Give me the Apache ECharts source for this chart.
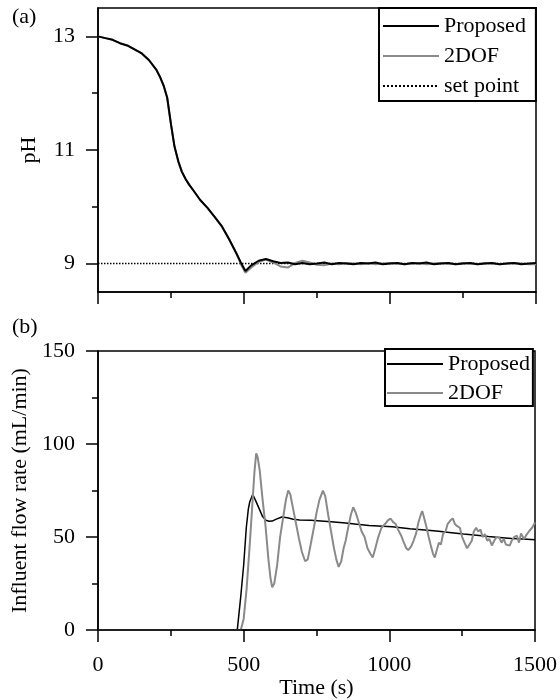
<!DOCTYPE html>
<html>
<head>
<meta charset="utf-8">
<script src="https://cdn.jsdelivr.net/npm/echarts@6/dist/echarts.min.js"></script>
<style>
  body { margin: 0; background: #fff; }
  #main { width: 560px; height: 700px; }
</style>
</head>
<body>
<div id="main"></div>
<script>
// (a) pH response
var phTime = [0, 25, 50, 75, 100, 125, 150, 175, 200, 212, 225, 237, 250, 262, 275, 287, 300, 312, 325, 350, 375, 400, 425, 450, 475,
    490, 505, 525, 550, 575, 600, 625, 650, 675, 700,
    725, 750, 775, 800, 825, 850, 875, 900, 925, 950, 975, 1000, 1025, 1050, 1075, 1100,
    1125, 1150, 1175, 1200, 1225, 1250, 1275, 1300, 1325, 1350, 1375, 1400, 1425, 1450, 1475, 1500];
var phProposed = [13.00, 12.97, 12.94, 12.88, 12.84, 12.77, 12.70, 12.58, 12.41, 12.29, 12.13, 11.92, 11.45, 11.06, 10.80, 10.62, 10.49, 10.39, 10.30, 10.12, 9.98, 9.82, 9.65, 9.42, 9.17,
    9.01, 8.87, 8.97, 9.05, 9.08, 9.04, 9.01, 9.02, 8.99, 9.01,
    8.99, 9.00, 9.02, 8.99, 9.01, 9.00, 8.99, 9.01, 9.00, 9.02, 8.99, 9.00, 9.01, 8.99, 9.01, 9.00,
    9.02, 8.99, 9.00, 9.01, 8.99, 9.00, 9.01, 8.99, 9.00, 9.01, 8.99, 9.00, 9.01, 8.99, 9.00, 9.01];
var phTwoDof = [13.00, 12.97, 12.94, 12.88, 12.84, 12.77, 12.70, 12.58, 12.41, 12.29, 12.13, 11.92, 11.45, 11.06, 10.80, 10.62, 10.49, 10.39, 10.30, 10.12, 9.98, 9.82, 9.65, 9.42, 9.17,
    8.98, 8.84, 8.93, 9.03, 9.07, 9.02, 8.95, 8.93, 9.01, 9.05,
    9.02, 8.98, 8.97, 9.00, 8.99, 9.01, 9.00, 8.99, 9.01, 8.99, 9.00, 9.01, 9.00, 8.99, 9.00, 9.01,
    8.99, 9.00, 9.01, 9.00, 8.99, 9.01, 9.00, 8.99, 9.01, 9.00, 8.99, 9.00, 9.01, 9.00, 8.99, 8.99];
var setTime = [0, 1500];
var setValue = [9, 9];

// (b) influent flow rate
var flowTimeProposed = [0, 478, 490, 500, 509, 516, 521, 531, 540, 552, 565, 576, 587, 598, 610, 631, 650, 670, 692,
    730, 765, 800, 850, 888, 930, 962, 1010, 1070, 1132, 1170, 1206, 1254, 1300, 1340, 1377, 1420, 1460, 1500];
var flowProposed = [0, 0, 18, 35, 55, 65, 69, 72.8, 70, 65.7, 61, 59, 58.5, 58.6, 59.5, 60.8, 60.4, 59.6, 59.2,
    59, 58.7, 58.2, 57.5, 56.9, 56.2, 56, 55.5, 54.5, 53.7, 53.1, 52.5, 51.6, 51, 50.3, 49.8, 49.2, 48.9, 48.6];
var flowTimeTwoDof = [0, 490, 500, 510, 520, 530, 537, 543, 548, 555, 565, 575, 585, 592, 598, 605, 615, 625, 637, 645,
    653, 660, 670, 680, 690, 700, 711, 720, 730, 741, 750, 760, 772, 780, 790, 800, 810, 818, 826, 835,
    843, 850, 860, 868, 876, 885, 895, 905, 915, 925, 935, 943, 952, 962, 973, 985, 995, 1004, 1013, 1022,
    1030, 1040, 1050, 1058, 1065, 1075, 1083, 1092, 1100, 1108, 1113, 1120, 1128, 1135, 1143, 1150, 1156, 1163, 1170, 1177,
    1185, 1193, 1200, 1210, 1218, 1225, 1232, 1242, 1250, 1258, 1267, 1275, 1283, 1290, 1298, 1305, 1313, 1320, 1328, 1336,
    1343, 1352, 1360, 1368, 1377, 1385, 1393, 1400, 1413, 1420, 1428, 1438, 1445, 1452, 1462, 1470, 1481, 1490, 1500];
var flowTwoDof = [0, 0, 6, 22, 44, 68, 85, 95, 93, 86, 70, 56, 38, 28, 23, 25, 35, 50, 62, 70,
    75, 73, 65, 57, 49, 42, 37, 38, 46, 55, 63, 70, 75, 72, 62, 53, 44, 38, 34, 37,
    44, 48, 56, 62, 66, 63, 58, 53, 50, 44, 41, 39, 44, 50, 55, 57, 59, 60, 58, 57,
    54, 51, 47, 44, 43, 45, 48, 52, 58, 62, 64, 60, 55, 50, 45, 41, 39, 43, 47, 46,
    52, 53, 57, 59, 60, 57, 56, 55, 50, 47, 44, 46, 48, 53, 55, 53, 54, 50, 51.6, 48,
    49, 45.5, 48, 50, 49.8, 47, 49, 46, 45.4, 48, 50, 50.7, 47, 52, 49, 51, 53.4, 55, 57.8];

function pairs(xs, ys) {
    var out = [];
    for (var i = 0; i < xs.length; i++) {
        out.push([xs[i], ys[i]]);
    }
    return out;
}

var serif = 'Liberation Serif';
var axisColor = '#000';
var labelStyle = { color: '#000', fontFamily: serif, fontSize: 22 };
var nameStyle = { color: '#000', fontFamily: serif, fontSize: 22 };
var plain = function (v) { return String(v); };

var myChart = echarts.init(document.getElementById('main'));

var legendBase = {
    orient: 'vertical',
    itemWidth: 56,
    itemHeight: 14,
    borderColor: '#000',
    borderWidth: 2,
    borderRadius: 0,
    backgroundColor: '#fff',
    selectedMode: false,
    itemStyle: { opacity: 0 },
    textStyle: { color: '#000', fontFamily: serif, fontSize: 22, lineHeight: 24 }
};

var option = {
    animation: false,
    backgroundColor: '#fff',
    title: [
        { text: '(a)', left: 12, top: 6, padding: 0, textStyle: { fontFamily: serif, fontSize: 22, fontWeight: 'normal', color: '#000' } },
        { text: '(b)', left: 12, top: 316, padding: 0, textStyle: { fontFamily: serif, fontSize: 22, fontWeight: 'normal', color: '#000' } }
    ],
    grid: [
        { left: 98, right: 24, top: 8, height: 284, show: true, borderColor: '#000', borderWidth: 1.5, backgroundColor: 'transparent' },
        { left: 98, right: 24, top: 351, height: 283, show: true, borderColor: '#000', borderWidth: 1.5, backgroundColor: 'transparent' }
    ],
    legend: [
        Object.assign({}, legendBase, {
            data: ['Proposed', '2DOF', 'set point'],
            left: 379,
            top: 8,
            padding: [6, 10, 3, 3],
            itemGap: 6
        }),
        Object.assign({}, legendBase, {
            data: ['Proposed', '2DOF'],
            left: 385,
            top: 349,
            padding: [3, 3, 1, 1],
            itemGap: 5
        })
    ],
    xAxis: [
        {
            gridIndex: 0, type: 'value', min: 0, max: 1500, interval: 500, z: 5,
            axisLine: { show: true, lineStyle: { color: axisColor, width: 1.5 } },
            axisTick: { show: true, length: 12, lineStyle: { color: axisColor, width: 1.5 } },
            minorTick: { show: true, splitNumber: 2, length: 6, lineStyle: { color: axisColor, width: 1.5 } },
            axisLabel: { show: false },
            splitLine: { show: false }
        },
        {
            gridIndex: 1, type: 'value', min: 0, max: 1500, interval: 500, z: 5,
            name: 'Time (s)', nameLocation: 'middle', nameGap: 44, nameTextStyle: nameStyle,
            axisLine: { show: true, lineStyle: { color: axisColor, width: 1.5 } },
            axisTick: { show: true, length: 12, lineStyle: { color: axisColor, width: 1.5 } },
            minorTick: { show: true, splitNumber: 2, length: 6, lineStyle: { color: axisColor, width: 1.5 } },
            axisLabel: Object.assign({ margin: 24, formatter: plain }, labelStyle),
            splitLine: { show: false }
        }
    ],
    yAxis: [
        {
            gridIndex: 0, type: 'value', min: 8.5, max: 13.5,
            name: 'pH', nameLocation: 'middle', nameGap: 58, nameTextStyle: nameStyle,
            axisLine: { show: true, lineStyle: { color: axisColor, width: 1.5 } },
            axisTick: { show: true, length: 12, customValues: [9, 11, 13], lineStyle: { color: axisColor, width: 1.5 } },
            axisLabel: Object.assign({ margin: 23, customValues: [9, 11, 13] }, labelStyle),
            splitLine: { show: false }
        },
        {
            // minor ticks for the pH axis
            gridIndex: 0, type: 'value', min: 8.5, max: 13.5, position: 'left',
            axisLine: { show: false },
            axisTick: { show: true, length: 6, customValues: [10, 12], lineStyle: { color: axisColor, width: 1.5 } },
            axisLabel: { show: false },
            splitLine: { show: false }
        },
        {
            gridIndex: 1, type: 'value', min: 0, max: 150, interval: 50,
            name: 'Influent flow rate (mL/min)', nameLocation: 'middle', nameGap: 52, nameTextStyle: nameStyle,
            axisLine: { show: true, lineStyle: { color: axisColor, width: 1.5 } },
            axisTick: { show: true, length: 12, lineStyle: { color: axisColor, width: 1.5 } },
            minorTick: { show: true, splitNumber: 2, length: 6, lineStyle: { color: axisColor, width: 1.5 } },
            axisLabel: Object.assign({ margin: 23, formatter: plain }, labelStyle),
            splitLine: { show: false }
        }
    ],
    series: [
        {
            name: 'set point', type: 'line', xAxisIndex: 0, yAxisIndex: 0,
            data: pairs(setTime, setValue), symbol: 'none',
            itemStyle: { color: '#000' },
            lineStyle: { color: '#000', width: 1.5, type: 'dotted' }
        },
        {
            name: '2DOF', type: 'line', xAxisIndex: 0, yAxisIndex: 0,
            data: pairs(phTime, phTwoDof), symbol: 'none',
            itemStyle: { color: '#8a8a8a' },
            lineStyle: { color: '#8a8a8a', width: 2 }
        },
        {
            name: 'Proposed', type: 'line', xAxisIndex: 0, yAxisIndex: 0,
            data: pairs(phTime, phProposed), symbol: 'none',
            itemStyle: { color: '#000' },
            lineStyle: { color: '#000', width: 2 }
        },
        {
            name: 'Proposed', type: 'line', xAxisIndex: 1, yAxisIndex: 2,
            data: pairs(flowTimeProposed, flowProposed), symbol: 'none',
            itemStyle: { color: '#000' },
            lineStyle: { color: '#000', width: 1.5 }
        },
        {
            name: '2DOF', type: 'line', xAxisIndex: 1, yAxisIndex: 2,
            data: pairs(flowTimeTwoDof, flowTwoDof), symbol: 'none',
            itemStyle: { color: '#8a8a8a' },
            lineStyle: { color: '#8a8a8a', width: 2 }
        }
    ]
};

myChart.setOption(option);
</script>
</body>
</html>
